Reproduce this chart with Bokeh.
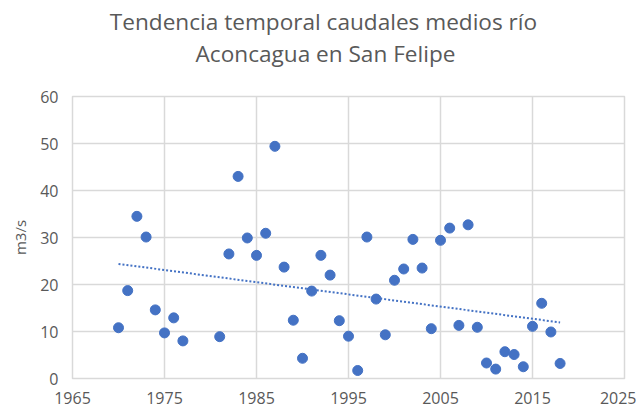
import numpy as np
from bokeh.plotting import figure
from bokeh.layouts import column
from bokeh.models import FixedTicker, Range1d
from bokeh.core.properties import value
from bokeh.embed import file_html
from bokeh.resources import INLINE

title_lines = ["Tendencia temporal caudales medios río", "Aconcagua en San Felipe"]
y_label = "m3/s"

years = [1970, 1971, 1972, 1973, 1974, 1975, 1976, 1977, 1981, 1982, 1983, 1984,
         1985, 1986, 1987, 1988, 1989, 1990, 1991, 1992, 1993, 1994, 1995, 1996,
         1997, 1998, 1999, 2000, 2001, 2002, 2003, 2004, 2005, 2006, 2007, 2008,
         2009, 2010, 2011, 2012, 2013, 2014, 2015, 2016, 2017, 2018]
flows = [10.8, 18.7, 34.5, 30.1, 14.6, 9.7, 12.9, 8.0, 8.9, 26.5, 43.0, 29.9,
         26.2, 30.9, 49.4, 23.7, 12.4, 4.3, 18.6, 26.2, 22.0, 12.3, 9.0, 1.7,
         30.1, 16.9, 9.3, 20.9, 23.3, 29.6, 23.5, 10.6, 29.4, 32.0, 11.3, 32.7,
         10.9, 3.3, 2.0, 5.7, 5.1, 2.5, 11.1, 16.0, 9.9, 3.2]

x_ticks = [1965, 1975, 1985, 1995, 2005, 2015, 2025]
y_ticks = [0, 10, 20, 30, 40, 50, 60]

BLUE = "#4472C4"
GRAY = "#595959"
GRID = "#D9D9D9"
FONT = "Open Sans"
W = 636
TOTAL_H = 413
TITLE_H = 82
LEFT, RIGHT = 72, 12

# ---- title strip (pixel coordinates, y measured from the top) ----
t = figure(width=W, height=TITLE_H, output_backend="svg", toolbar_location=None,
           x_range=Range1d(LEFT, W - RIGHT), y_range=Range1d(TITLE_H, 0),
           min_border_left=LEFT, min_border_right=RIGHT,
           min_border_top=0, min_border_bottom=0,
           x_axis_type=None, y_axis_type=None)
t.outline_line_color = None
t.grid.visible = False
t.text(x=[323, 325], y=[21, 53], text=title_lines, text_align="center",
       text_baseline="middle", text_font=value(FONT),
       text_font_size=value("22.6px"), text_color=GRAY)

# ---- main chart ----
p = figure(width=W, height=TOTAL_H - TITLE_H, output_backend="svg",
           toolbar_location=None,
           x_range=Range1d(1965, 2025), y_range=Range1d(0, 60),
           min_border_left=LEFT, min_border_right=RIGHT, min_border_top=14,
           min_border_bottom=35)
p.outline_line_color = GRID
p.outline_line_width = 1.5

# trend line (least squares)
slope, intercept = np.polyfit(years, flows, 1)
tx = [min(years), max(years)]
ty = [slope * v + intercept for v in tx]
p.line(tx, ty, line_color=BLUE, line_width=2, line_dash="2 2")

p.scatter(years, flows, size=10, fill_color=BLUE, line_color=BLUE)

for ax in (p.xaxis[0], p.yaxis[0]):
    ax.axis_line_color = None
    ax.major_tick_line_color = None
    ax.minor_tick_line_color = None
    ax.major_tick_out = 0
    ax.major_tick_in = 0
    ax.minor_tick_out = 0
    ax.minor_tick_in = 0
    ax.major_label_text_color = GRAY
    ax.major_label_text_font = FONT
    ax.major_label_text_font_size = "16px"

p.xaxis.ticker = FixedTicker(ticks=x_ticks)
p.yaxis.ticker = FixedTicker(ticks=y_ticks)
p.xaxis.major_label_standoff = 13
p.yaxis.major_label_standoff = 14
p.yaxis.axis_label = y_label
p.yaxis.axis_label_text_font = FONT
p.yaxis.axis_label_text_font_style = "normal"
p.yaxis.axis_label_text_font_size = "15px"
p.yaxis.axis_label_text_color = GRAY
p.yaxis.axis_label_standoff = 7

p.xgrid.ticker = FixedTicker(ticks=x_ticks)
p.ygrid.ticker = FixedTicker(ticks=y_ticks)
p.xgrid.grid_line_color = GRID
p.ygrid.grid_line_color = GRID
p.xgrid.grid_line_width = 1.5
p.ygrid.grid_line_width = 1.5

layout = column(t, p, spacing=0)
open("out.html", "w").write(file_html(layout, INLINE))
